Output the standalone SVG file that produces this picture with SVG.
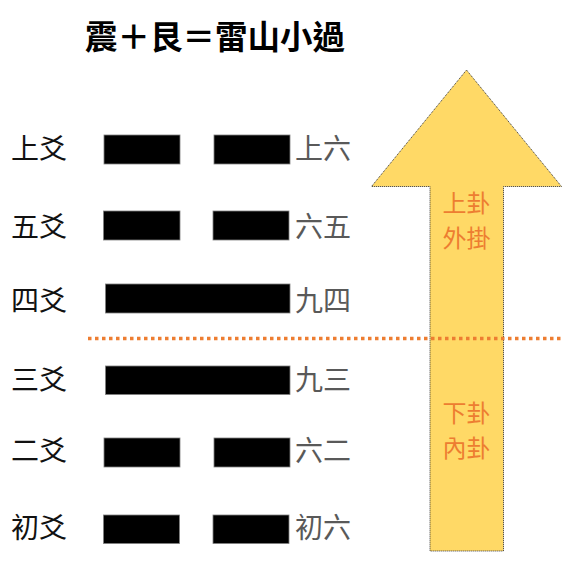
<svg xmlns="http://www.w3.org/2000/svg" width="564" height="561" viewBox="0 0 564 561">
<style>
.title{font-family:"Noto Sans CJK TC","Noto Sans CJK SC",sans-serif;font-weight:bold;font-size:32.5px;fill:#000}
.lbl{font-family:"Noto Sans CJK TC","Noto Sans CJK SC",sans-serif;font-size:28px;fill:#111}
.rl{font-family:"Noto Sans CJK TC","Noto Sans CJK SC",sans-serif;font-size:28px;fill:#595959}
.gua{font-family:"Noto Sans CJK TC","Noto Sans CJK SC",sans-serif;font-size:24px;fill:#ED7D31;text-anchor:middle}
.bar{fill:#000;stroke:#7f7f7f;stroke-width:0.8}
</style>
<rect width="564" height="561" fill="#fff"/>
<g id="arrow">
<path d="M466.5,70 L561.5,186.5 L503.5,186.5 L503.5,551 L430,551 L430,186.5 L371.5,186.5 Z" fill="#FFD966" stroke="#333" stroke-width="1" stroke-dasharray="1 1"/>
<text class="gua" x="466.5" y="211.5">上卦</text>
<text class="gua" x="466.5" y="247">外掛</text>
<text class="gua" x="466.5" y="421.5">下卦</text>
<text class="gua" x="466.5" y="457">內卦</text>
</g>
<g id="divider">
<line x1="88" y1="338.5" x2="564" y2="338.5" stroke="#ED7D31" stroke-width="3.5" stroke-dasharray="3.5 3.5"/>
</g>
<g id="title"><text class="title" x="85" y="48.5">震＋艮＝雷山小過</text></g>
<g id="line6">
<text class="lbl" x="11" y="159">上爻</text>
<rect class="bar" x="104" y="135" width="76" height="29"/>
<rect class="bar" x="214" y="135" width="76" height="29"/>
<text class="rl" x="295" y="159">上六</text>
</g>
<g id="line5">
<text class="lbl" x="11" y="236.5">五爻</text>
<rect class="bar" x="103.5" y="211" width="76.5" height="29"/>
<rect class="bar" x="213" y="211" width="76" height="29"/>
<text class="rl" x="295" y="236.5">六五</text>
</g>
<g id="line4">
<text class="lbl" x="11" y="311">四爻</text>
<rect class="bar" x="105.5" y="284" width="184.5" height="29"/>
<text class="rl" x="295" y="311">九四</text>
</g>
<g id="line3">
<text class="lbl" x="11" y="390">三爻</text>
<rect class="bar" x="105.5" y="366" width="184.5" height="28.5"/>
<text class="rl" x="295" y="390">九三</text>
</g>
<g id="line2">
<text class="lbl" x="11" y="460.5">二爻</text>
<rect class="bar" x="104" y="438" width="76" height="29"/>
<rect class="bar" x="214" y="438" width="76" height="29"/>
<text class="rl" x="295" y="460.5">六二</text>
</g>
<g id="line1">
<text class="lbl" x="11" y="538">初爻</text>
<rect class="bar" x="103.5" y="515" width="76" height="28.5"/>
<rect class="bar" x="213" y="515" width="76" height="28.5"/>
<text class="rl" x="295" y="538">初六</text>
</g>
</svg>
